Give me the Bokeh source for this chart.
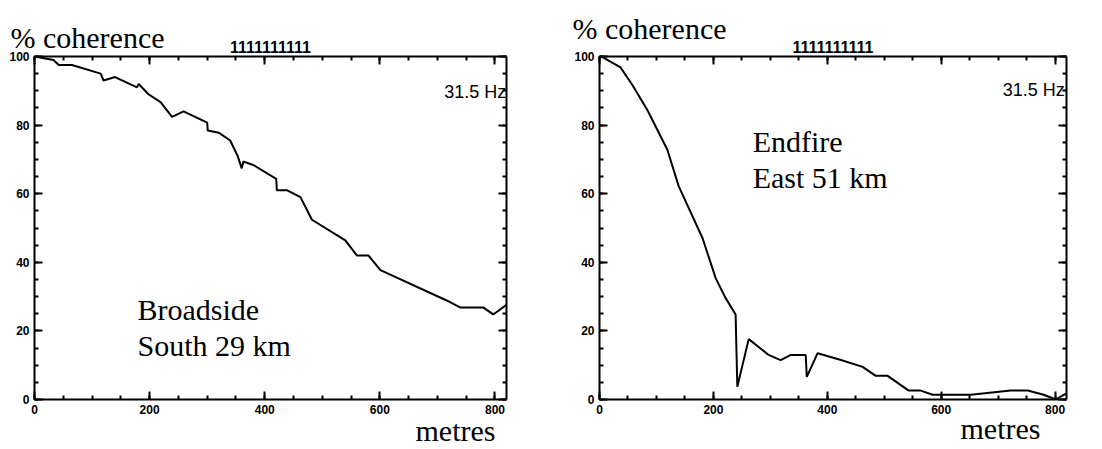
from bokeh.plotting import figure
from bokeh.layouts import row
from bokeh.models import (Range1d, LinearAxis, SingleIntervalTicker, Label, Title,
                          CustomJSTickFormatter)
from bokeh.embed import file_html
from bokeh.resources import INLINE

# ---- data ----
broad_dist = [0, 33, 42, 65, 115, 120, 140, 178, 181, 198, 219, 239, 259, 300, 301,
              320, 340, 353, 360, 363, 381, 420, 421, 439, 462, 482, 540, 560, 580,
              601, 717, 740, 780, 797, 820]
broad_coh = [100, 99, 97.5, 97.5, 95, 93, 94, 91, 92, 89, 86.7, 82.4, 84, 80.7, 78.4,
             77.8, 75.5, 71, 67.4, 69.4, 68.3, 64.3, 61, 61, 59, 52.4, 46.4, 42, 42,
             37.7, 28.8, 26.8, 26.8, 24.8, 27.6]

end_dist = [0, 7, 16, 37, 58, 84, 119, 139, 181, 204, 221, 239, 242, 262, 297, 318,
            336, 362, 364, 383, 424, 462, 485, 506, 543, 564, 585, 652, 722, 752,
            780, 801, 819]
end_coh = [100, 99.7, 98.8, 96.8, 91.6, 84.4, 72.9, 62.2, 47, 35.4, 29.7, 24.8, 3.7,
           17.6, 13, 11.5, 13, 13, 6.6, 13.5, 11.5, 9.5, 6.9, 6.9, 2.6, 2.6, 1.4, 1.4,
           2.6, 2.6, 1.4, 0, 1.7]

x_tick_interval = 200
y_tick_interval = 20
y_title = "% coherence"
x_title = "metres"
top_marks = "1111111111"
freq_text = "31.5 Hz"

SERIF = "Liberation Serif"
SANS = "Liberation Sans"


def style_axis(ax, labels=True, interval=200):
    ax.ticker = SingleIntervalTicker(interval=interval, num_minor_ticks=4)
    ax.axis_line_width = 2
    ax.axis_line_color = "black"
    ax.major_tick_in = 8
    ax.major_tick_out = 0
    ax.minor_tick_in = 4
    ax.minor_tick_out = 0
    ax.major_tick_line_width = 2
    ax.minor_tick_line_width = 2
    ax.major_tick_line_color = "black"
    ax.minor_tick_line_color = "black"
    ax.major_label_text_font = SANS
    ax.major_label_text_font_style = "bold"
    ax.major_label_text_font_size = "12px"
    ax.major_label_text_color = "black"
    ax.major_label_standoff = 5
    if not labels:
        ax.formatter = CustomJSTickFormatter(code="return ''")
        ax.major_label_standoff = 0


def make_panel(width, bl, br, bt, bb, xs, ys, texts,
               title_offset, title_standoff, metres_offset, metres_standoff):
    p = figure(width=width, height=449, output_backend="svg", toolbar_location=None,
               x_range=Range1d(0, 820), y_range=Range1d(0, 100),
               x_axis_location=None, y_axis_location=None,
               min_border_left=bl, min_border_right=br,
               min_border_top=bt, min_border_bottom=bb)
    p.title.visible = False
    p.grid.visible = False
    p.outline_line_color = None
    p.background_fill_color = "white"
    p.border_fill_color = "white"

    bx = LinearAxis(); style_axis(bx, True, x_tick_interval); p.add_layout(bx, "below")
    lx = LinearAxis(); style_axis(lx, True, y_tick_interval); p.add_layout(lx, "left")
    tx = LinearAxis(); style_axis(tx, False, x_tick_interval)
    tx.axis_label = top_marks
    tx.axis_label_text_font = SANS
    tx.axis_label_text_font_style = "bold"
    tx.axis_label_text_font_size = "16px"
    tx.axis_label_text_color = "black"
    tx.axis_label_standoff = 4
    p.add_layout(tx, "above")
    rx = LinearAxis(); style_axis(rx, False, y_tick_interval); p.add_layout(rx, "right")

    # "% coherence" above the plot (left aligned, outside the frame)
    p.add_layout(Title(text=y_title, align="left", offset=title_offset,
                       standoff=title_standoff, vertical_align="bottom",
                       text_font=SERIF, text_font_size="30px",
                       text_font_style="normal", text_color="black"), "above")
    # "metres" below the axis (right aligned)
    p.add_layout(Title(text=x_title, align="right", offset=metres_offset,
                       standoff=metres_standoff, vertical_align="top",
                       text_font=SERIF, text_font_size="30px",
                       text_font_style="normal", text_color="black"), "below")

    p.line(xs, ys, line_color="black", line_width=2)

    for (t, x, y, font, size, style) in texts:
        p.add_layout(Label(x=x, y=y, text=t, text_font=font, text_font_size=size,
                           text_font_style=style, text_baseline="alphabetic",
                           text_color="black"))
    return p


left_texts = [
    (freq_text, 712, 89.6, SANS, "18px", "normal"),
    ("Broadside", 179, 26.2, SERIF, "30px", "normal"),
    ("South 29 km", 179, 15.6, SERIF, "30px", "normal"),
]
right_texts = [
    (freq_text, 708, 90.2, SANS, "18px", "normal"),
    ("Endfire", 269, 75.2, SERIF, "30px", "normal"),
    ("East 51 km", 269, 64.8, SERIF, "30px", "normal"),
]

p1 = make_panel(550, 34, 44, 52, 50, broad_dist, broad_coh, left_texts, -24, -32, 11, -6)
p2 = make_panel(552, 49, 36, 56, 46, end_dist, end_coh, right_texts, -27, -14, 26, -10)

layout = row(p1, p2)
open("out.html", "w").write(file_html(layout, INLINE))
